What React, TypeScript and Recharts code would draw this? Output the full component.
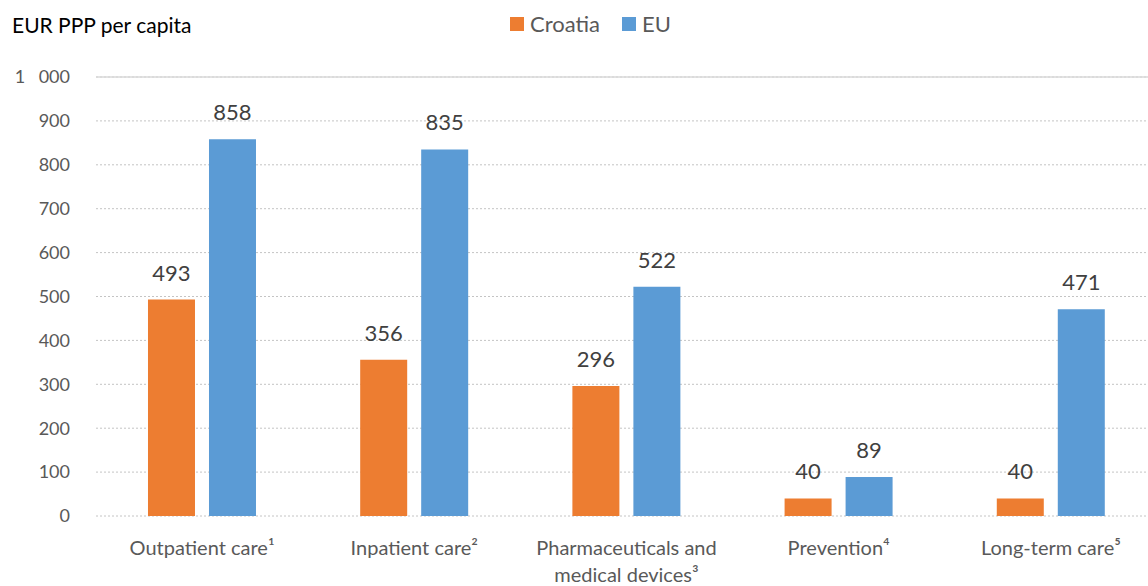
import React from 'react';
import { BarChart, Bar, XAxis, YAxis, CartesianGrid, LabelList, ReferenceLine } from 'recharts';

const categories = ['Outpatient care¹', 'Inpatient care²', 'Pharmaceuticals and\nmedical devices³', 'Prevention⁴', 'Long-term care⁵'];
const croatia = [493, 356, 296, 40, 40];
const eu = [858, 835, 522, 89, 471];
const yTicks = [0, 100, 200, 300, 400, 500, 600, 700, 800, 900, 1000];

const data = categories.map((name, i) => ({ name, croatia: croatia[i], eu: eu[i] }));

const FONT = 'Lato, "Open Sans", sans-serif';
const TEXT = '#595959';

const CategoryTick = ({ x, y, payload }: any) => {
  const lines = String(payload.value).split('\n');
  return (
    <text x={x} y={y} textAnchor="middle" fill={TEXT} fontSize={20} fontFamily={FONT}>
      {lines.map((l, i) => (
        <tspan key={i} x={x} dy={i === 0 ? 31 : 27}>{l}</tspan>
      ))}
    </text>
  );
};

const fmt = (v: number) => (v >= 1000 ? `${Math.floor(v / 1000)}\u2003${String(v % 1000).padStart(3, '0')}` : String(v));

export default function App() {
  return (
    <div style={{ position: 'absolute', left: 0, top: 0, width: 1148, height: 586, overflow: 'hidden', background: '#fff', fontFamily: FONT }}>
      <div style={{ position: 'absolute', left: 12, top: 12, fontSize: 21, color: '#000' }}>EUR PPP per capita</div>
      <div style={{ position: 'absolute', left: 510, top: 10, display: 'flex', alignItems: 'center', fontSize: 22, color: TEXT }}>
        <span style={{ width: 14, height: 14, background: '#ED7D31', display: 'inline-block', marginRight: 6 }} />
        <span style={{ marginRight: 22 }}>Croatia</span>
        <span style={{ width: 14, height: 14, background: '#5B9BD5', display: 'inline-block', marginRight: 6 }} />
        <span>EU</span>
      </div>
      <BarChart
        width={1160}
        height={586}
        data={data}
        margin={{ top: 77, right: 3, left: 0, bottom: 0 }}
        barGap={14}
        barCategoryGap="24.5%"
      >
        <CartesianGrid vertical={false} stroke="#c4c4c4" strokeDasharray="2 2" />
        <ReferenceLine y={1000} stroke="#d9d9d9" strokeWidth={1.5} />
        <XAxis dataKey="name" tick={<CategoryTick />} axisLine={false} tickLine={false} interval={0} height={70} />
        <YAxis
          domain={[0, 1000]}
          ticks={yTicks}
          width={96}
          tickFormatter={fmt}
          axisLine={false}
          tickLine={false}
          tickSize={0}
          tickMargin={26}
          tick={{ fill: TEXT, fontSize: 18, fontFamily: FONT }}
        />
        <Bar dataKey="croatia" fill="#ED7D31" isAnimationActive={false}>
          <LabelList dataKey="croatia" position="top" offset={19} style={{ fill: '#404040', fontSize: 22, fontFamily: FONT }} />
        </Bar>
        <Bar dataKey="eu" fill="#5B9BD5" isAnimationActive={false}>
          <LabelList dataKey="eu" position="top" offset={19} style={{ fill: '#404040', fontSize: 22, fontFamily: FONT }} />
        </Bar>
      </BarChart>
    </div>
  );
}
